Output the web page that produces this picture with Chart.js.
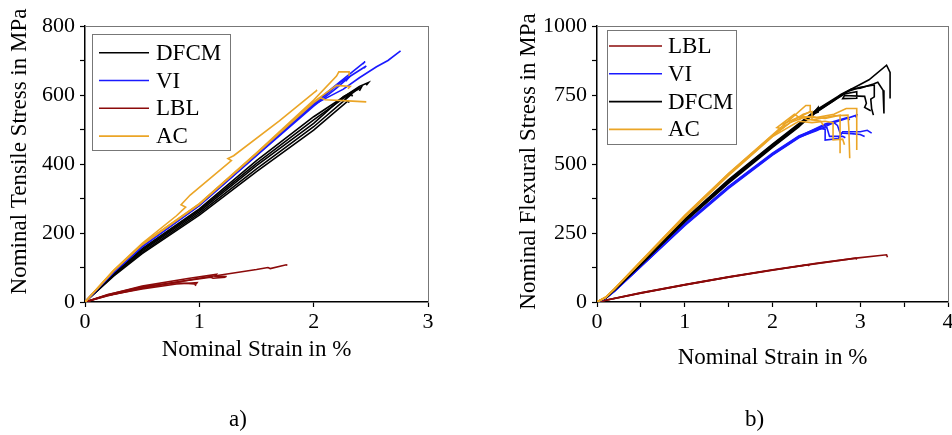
<!DOCTYPE html>
<html>
<head>
<meta charset="utf-8">
<script src="https://cdn.jsdelivr.net/npm/chart.js@4.4.1/dist/chart.umd.min.js"></script>
<style>
  html, body { margin: 0; padding: 0; background: #fff; overflow: hidden; width: 952px; height: 435px; }
  .panel { position: absolute; top: 0; }
  #left { left: 0; }
  #right { left: 476px; }
  .tag { position: absolute; font-family: "Liberation Serif", serif; font-size: 23px; line-height: 23px; color: #000; }
</style>
</head>
<body>
<div class="panel" id="left"><canvas id="tensile" width="476" height="435"></canvas></div>
<div class="panel" id="right"><canvas id="flexural" width="490" height="435"></canvas></div>
<div class="tag" style="left:229px; top:407px">a)</div>
<div class="tag" style="left:745px; top:407px">b)</div>
<script>
// ---- data: [strain %, stress MPa] per specimen curve ----
const tensileDFCM = [
  [[0,0],[0.25,75],[0.5,140],[1,252],[1.5,378],[2,498],[2.3,583],[2.31,578]],
  [[0,0],[0.25,77],[0.5,144],[1,257],[1.5,386],[2,508],[2.33,602],[2.34,596]],
  [[0,0],[0.25,79],[0.5,148],[1,262],[1.5,395],[2,518],[2.26,595],[2.32,606],[2.29,594],[2.4,620],[2.38,614]],
  [[0,0],[0.25,80],[0.5,151],[1,266],[1.5,402],[2,528],[2.35,612],[2.42,624],[2.4,612]],
  [[0,0],[0.25,82],[0.5,155],[1,270],[1.5,410],[2,537],[2.4,625],[2.48,636],[2.46,628]]
];
const tensileVI = [
  [[0,0],[0.25,88],[0.5,162],[1,281],[1.5,428],[2,572],[2.26,617],[2.4,650],[2.55,682],[2.65,700],[2.76,728]],
  [[0,0],[0.25,88],[0.5,163],[1,283],[1.5,430],[2,576],[2.2,630],[2.45,697],[2.43,690]],
  [[0,0],[0.25,87],[0.5,161],[1,280],[1.5,426],[2,572],[2.25,640],[2.46,684],[2.44,678]],
  [[0,0],[0.25,86],[0.5,160],[1,279],[1.5,424],[2,568],[2.2,620],[2.32,655],[2.28,640]]
];
const tensileLBL = [
  [[0,0],[0.2,18],[0.5,40],[1,69],[1.5,94],[1.6,100],[1.62,97],[1.76,108],[1.77,106]],
  [[0,0],[0.2,21],[0.5,46],[0.9,68],[1.15,80],[1.14,75],[1.24,74]],
  [[0,0],[0.2,19],[0.5,42],[0.8,58],[1.1,72],[1.12,69],[1.23,72]],
  [[0,0],[0.2,22],[0.5,44],[0.8,56],[0.96,52],[0.97,47]],
  [[0,0],[0.2,20],[0.5,38],[0.8,52],[0.98,56],[0.97,51]]
];
const tensileAC = [
  [[0,0],[0.25,92],[0.5,170],[0.8,250],[0.88,275],[0.84,282],[0.92,310],[1.28,410],[1.25,416],[1.3,424],[1.7,525],[2.03,614],[2.01,608]],
  [[0,0],[0.25,91],[0.5,168],[1,285],[1.5,432],[2,585],[2.2,655],[2.22,667],[2.31,667],[2.31,655]],
  [[0,0],[0.25,90],[0.5,166],[1,283],[1.5,430],[2,578],[2.06,592],[2.1,586],[2.3,583],[2.46,580]],
  [[0,0],[0.25,90],[0.5,167],[1,284],[1.5,431],[2,580],[2.2,628],[2.32,625],[2.3,618]]
];

const flexLBL = [
  [[0,0],[0.5,33],[1,63],[1.5,91],[2,117],[2.5,140],[2.95,159],[3.3,171],[3.31,162]],
  [[0,0],[0.5,32],[1,62],[1.5,90],[2,116],[2.5,139],[2.95,159],[2.96,154]],
  [[0,0],[0.5,33],[1,62],[1.5,90],[2,115],[2.4,135],[2.42,131]]
];
const flexVI = [
  [[0,0],[0.1,14],[0.2,41],[0.5,132],[1,283],[1.5,419],[2,539],[2.3,602],[2.6,640],[2.8,660],[2.96,677],[2.95,668]],
  [[0,0],[0.1,14],[0.2,40],[0.5,131],[1,281],[1.5,417],[2,537],[2.3,600],[2.55,630],[2.6,625],[2.6,587],[2.75,592],[2.8,617],[3.0,617],[3.08,622],[3.13,612]],
  [[0,0],[0.1,13],[0.2,39],[0.5,129],[1,279],[1.5,414],[2,534],[2.3,597],[2.5,620],[2.7,650],[2.74,640],[2.77,612],[2.9,610],[3.0,607],[3.05,600]],
  [[0,0],[0.1,13],[0.2,39],[0.5,128],[1,277],[1.5,412],[2,532],[2.3,595],[2.5,624],[2.62,632],[2.65,600],[2.8,600],[2.83,595]],
  [[0,0],[0.1,14],[0.2,40],[0.5,130],[1,280],[1.5,416],[2,536],[2.3,599],[2.6,645],[2.85,668],[2.88,660]]
];
const flexDFCM = [
  [[0,0],[0.1,16],[0.2,46],[0.5,140],[1,300],[1.5,443],[2,572],[2.3,646],[2.5,696],[2.8,756],[2.95,780],[3.1,805],[3.3,858],[3.34,832],[3.34,737]],
  [[0,0],[0.1,16],[0.2,45],[0.5,138],[1,297],[1.5,440],[2,569],[2.3,643],[2.5,693],[2.8,752],[2.9,772],[3.0,775],[3.15,790],[3.2,796],[3.26,767],[3.27,683]],
  [[0,0],[0.1,16],[0.2,45],[0.5,137],[1,295],[1.5,437],[2,566],[2.3,640],[2.5,690],[2.8,750],[2.85,762],[3.0,778],[3.16,786],[3.16,743],[3.12,735],[3.13,700],[3.15,677]],
  [[0,0],[0.1,15],[0.2,44],[0.5,135],[1,292],[1.5,434],[2,563],[2.3,637],[2.5,687],[2.7,730],[2.78,752],[2.96,762],[2.96,738],[2.8,737],[2.82,748],[3.05,745],[3.07,720],[3.05,705],[3.12,693]],
  [[0,0],[0.1,15],[0.2,43],[0.5,134],[1,290],[1.5,431],[2,560],[2.3,634],[2.48,690],[2.52,705],[2.52,688],[2.48,684]]
];
const flexAC = [
  [[0,0],[0.1,18],[0.2,49],[0.5,148],[1,314],[1.5,466],[2,606],[2.2,662],[2.38,712],[2.43,712],[2.43,690],[2.3,668],[2.32,660]],
  [[0,0],[0.1,17],[0.2,48],[0.5,146],[1,311],[1.5,463],[2,603],[2.1,628],[2.05,632],[2.25,680],[2.3,670],[2.45,672],[2.5,668],[2.7,680],[2.84,701],[2.96,701],[2.96,551]],
  [[0,0],[0.1,17],[0.2,47],[0.5,145],[1,309],[1.5,461],[2,601],[2.2,650],[2.35,668],[2.4,660],[2.5,662],[2.7,675],[2.86,677],[2.87,629],[2.88,521]],
  [[0,0],[0.1,17],[0.2,48],[0.5,146],[1,310],[1.5,462],[2,602],[2.15,640],[2.12,645],[2.3,670],[2.45,670],[2.6,665],[2.69,671],[2.77,677],[2.77,539]],
  [[0,0],[0.1,16],[0.2,46],[0.5,144],[1,307],[1.5,459],[2,599],[2.3,655],[2.45,650],[2.6,655],[2.69,650],[2.69,587],[2.8,590],[2.82,570]],
  [[0,0],[0.1,17],[0.2,48],[0.5,147],[1,312],[1.5,464],[2,604],[2.2,650],[2.35,680],[2.45,690],[2.45,660],[2.55,655],[2.58,640]]
];

const tensileXLabels = [0, 1, 2, 3];
const tensileYLabels = [0, 200, 400, 600, 800];
const flexXLabels = [0, 1, 2, 3, 4];
const flexYLabels = [0, 250, 500, 750, 1000];

// ---- styles ----
const SERIF = '"Liberation Serif", "Times New Roman", serif';
Chart.defaults.font.family = SERIF;
Chart.defaults.color = '#000';

const seriesColors = { DFCM: '#000000', VI: '#1a1aff', LBL: '#8b0a0a', AC: '#eba526' };

function curveSets(groups) {
  const sets = [];
  groups.forEach((g, gi) => {
    g.curves.forEach(c => sets.push({
      label: g.name,
      data: c.map(([x, y]) => ({ x, y })),
      borderColor: seriesColors[g.name],
      borderWidth: 1.6,
      pointRadius: 0,
      tension: 0,
      fill: false,
      order: groups.length - gi   // later series on top
    }));
  });
  return sets;
}

// legend box + rotated y title drawn inside the chart canvas
const panelDecor = {
  id: 'panelDecor',
  afterDraw(chart, args, opts) {
    const ctx = chart.ctx;
    const a = chart.chartArea;
    ctx.save();
    ctx.fillStyle = '#000';
    ctx.font = '23px ' + SERIF;
    ctx.textAlign = 'center';
    ctx.textBaseline = 'middle';
    ctx.translate(opts.yTitleX, opts.yTitleY);
    ctx.rotate(-Math.PI / 2);
    ctx.fillText(opts.yTitle, 0, 0);
    ctx.restore();

    const L = opts.legend;
    const bx = a.left + L.dx, by = a.top + L.dy;
    ctx.save();
    ctx.fillStyle = '#fff';
    ctx.fillRect(bx, by, L.w, L.h);
    ctx.strokeStyle = '#777';
    ctx.lineWidth = 1;
    ctx.strokeRect(bx + 0.5, by + 0.5, L.w, L.h);
    ctx.font = '23px ' + SERIF;
    ctx.textAlign = 'left';
    ctx.textBaseline = 'middle';
    L.names.forEach((n, i) => {
      const y = by + L.first + i * L.row;
      ctx.strokeStyle = seriesColors[n];
      ctx.lineWidth = 1.6;
      ctx.beginPath();
      ctx.moveTo(bx + L.line0, y);
      ctx.lineTo(bx + L.line1, y);
      ctx.stroke();
      ctx.fillStyle = '#000';
      ctx.fillText(n, bx + L.text, y + 1);
    });
    ctx.restore();
  }
};

function scales(o) {
  const tickFont = { size: 22 };
  const axisGrid = { display: true, drawOnChartArea: false, drawTicks: true, tickLength: 5, tickColor: '#000', tickWidth: 1.2 };
  const axisBorder = { display: true, color: '#000', width: 1.5 };
  const frame = { display: true, color: '#777', width: 1 };
  return {
    x: {
      type: 'linear', position: 'bottom', min: 0, max: o.xMax,
      ticks: { stepSize: o.xStep, font: tickFont, padding: 2, maxRotation: 0,
        callback: v => o.xLabels.includes(v) ? String(v) : '' },
      grid: axisGrid, border: axisBorder,
      title: { display: true, text: 'Nominal Strain in %', font: { size: 23 }, padding: { top: 0, bottom: o.xTitlePad } },
      afterFit: s => { s.height = 133; }
    },
    y: {
      type: 'linear', position: 'left', min: 0, max: o.yMax,
      ticks: { stepSize: o.yStep, font: tickFont, padding: 5,
        callback: v => o.yLabels.includes(v) ? String(v) : '' },
      grid: axisGrid, border: axisBorder,
      afterFit: s => { s.width = o.yWidth; }
    },
    xTop: {
      type: 'linear', position: 'top', min: 0, max: o.xMax,
      ticks: { display: false }, grid: { display: false }, border: frame,
      afterFit: s => { s.height = 0; }
    },
    yRight: {
      type: 'linear', position: 'right', min: 0, max: o.yMax,
      ticks: { display: false }, grid: { display: false }, border: frame,
      afterFit: s => { s.width = 0; }
    }
  };
}

new Chart(document.getElementById('tensile'), {
  type: 'line',
  data: { datasets: curveSets([
    { name: 'DFCM', curves: tensileDFCM },
    { name: 'VI', curves: tensileVI },
    { name: 'LBL', curves: tensileLBL },
    { name: 'AC', curves: tensileAC }
  ]) },
  options: {
    responsive: false,
    animation: false,
    layout: { padding: { left: 0, top: 26, right: 48, bottom: 0 } },
    scales: scales({ xMax: 3, xStep: 1, xLabels: tensileXLabels, yMax: 800, yStep: 100,
      yLabels: tensileYLabels, yWidth: 85, xTitlePad: 71 }),
    plugins: {
      legend: { display: false },
      tooltip: { enabled: false },
      panelDecor: {
        yTitle: 'Nominal Tensile Stress in MPa', yTitleX: 20, yTitleY: 151.5,
        legend: { names: ['DFCM', 'VI', 'LBL', 'AC'], dx: 7, dy: 8, w: 138, h: 116,
          line0: 7, line1: 57, text: 64, first: 18.7, row: 27.8 }
      }
    }
  },
  plugins: [panelDecor]
});

new Chart(document.getElementById('flexural'), {
  type: 'line',
  data: { datasets: curveSets([
    { name: 'LBL', curves: flexLBL },
    { name: 'VI', curves: flexVI },
    { name: 'DFCM', curves: flexDFCM },
    { name: 'AC', curves: flexAC }
  ]) },
  options: {
    responsive: false,
    animation: false,
    layout: { padding: { left: 0, top: 26, right: 18, bottom: 0 } },
    scales: scales({ xMax: 4, xStep: 0.5, xLabels: flexXLabels, yMax: 1000, yStep: 125,
      yLabels: flexYLabels, yWidth: 121, xTitlePad: 63.5 }),
    plugins: {
      legend: { display: false },
      tooltip: { enabled: false },
      panelDecor: {
        yTitle: 'Nominal Flexural Stress in MPa', yTitleX: 53, yTitleY: 161.5,
        legend: { names: ['LBL', 'VI', 'DFCM', 'AC'], dx: 10, dy: 4, w: 129, h: 114,
          line0: 2, line1: 55, text: 61, first: 16, row: 27.8 }
      }
    }
  },
  plugins: [panelDecor]
});
</script>
</body>
</html>
